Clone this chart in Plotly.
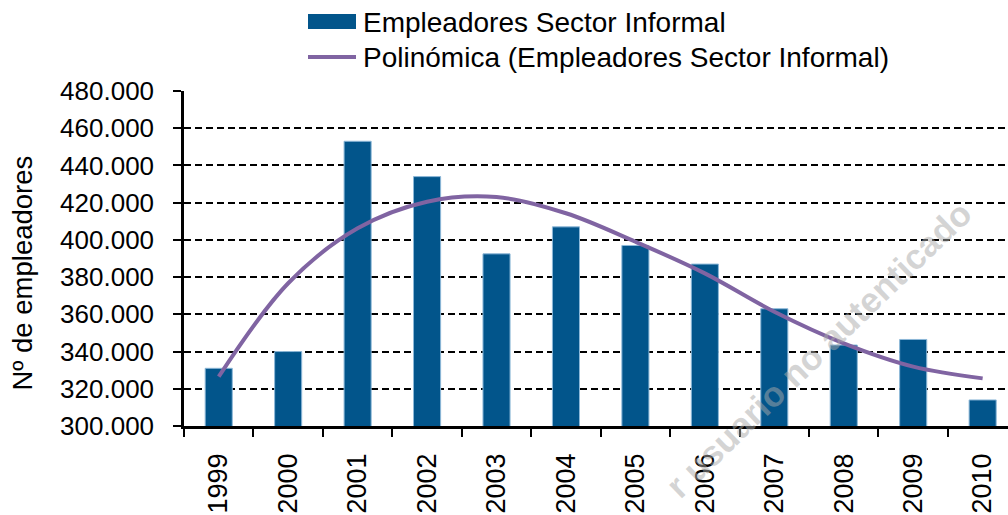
import plotly.graph_objects as go

years = ["1999", "2000", "2001", "2002", "2003", "2004", "2005", "2006", "2007", "2008", "2009", "2010"]
empleadores = [331000, 340000, 453000, 434000, 392500, 407000, 397000, 387000, 363000, 343500, 346500, 314000]
tendencia = [326500, 376700, 406200, 420500, 423000, 414300, 399000, 382000, 361400, 344400, 331900, 325600]
y_ticks = [300000, 320000, 340000, 360000, 380000, 400000, 420000, 440000, 460000, 480000]
y_labels = ["300.000", "320.000", "340.000", "360.000", "380.000", "400.000", "420.000", "440.000", "460.000", "480.000"]
serie_bar = "Empleadores Sector Informal"
serie_line = "Polinómica (Empleadores Sector Informal)"

FONT = "Liberation Sans, Arial, sans-serif"
BAR_COLOR = "#02558B"
LINE_COLOR = "#8064A2"

# plot area geometry (pixels)
L, R, T, B = 184, 1008, 91, 426
PW, PH = R - L, B - T


def px(xp):
    return (xp - L) / PW


def py(yp):
    return (B - yp) / PH


fig = go.Figure()
fig.add_trace(go.Bar(
    x=years, y=empleadores, name=serie_bar, showlegend=False,
    marker=dict(color=BAR_COLOR, line=dict(color="#8db8d8", width=1)),
    width=0.39,
))
fig.add_trace(go.Scatter(
    x=years, y=tendencia, name=serie_line, showlegend=False,
    mode="lines", line=dict(color=LINE_COLOR, width=4, shape="spline", smoothing=1.0),
))

shapes = [
    dict(type="rect", xref="paper", yref="paper",
         x0=px(308), x1=px(356), y0=py(29), y1=py(14),
         fillcolor=BAR_COLOR, line=dict(width=0)),
    dict(type="line", xref="paper", yref="paper",
         x0=px(308), x1=px(356), y0=py(57), y1=py(57),
         line=dict(color=LINE_COLOR, width=4)),
]

fig.update_layout(
    width=1008, height=515,
    margin=dict(l=L, r=1008 - R, t=T, b=515 - B, autoexpand=False),
    paper_bgcolor="white", plot_bgcolor="white",
    font=dict(family=FONT, size=26, color="black"),
    showlegend=False,
    xaxis=dict(
        type="category", range=[-0.5, 11.365], automargin=False,
        showline=True, linecolor="black", linewidth=2.5,
        ticks="outside", tickson="boundaries", ticklen=8, tickwidth=2, tickcolor="black",
        tickangle=-90, tickfont=dict(size=27, family=FONT, color="black"),
        ticklabelstandoff=14,
        showgrid=False, zeroline=False,
    ),
    yaxis=dict(
        range=[300000, 480000], automargin=False,
        tickvals=y_ticks, ticktext=y_labels,
        showline=True, linecolor="black", linewidth=2.5,
        ticks="outside", ticklen=8, tickwidth=2, tickcolor="black",
        tickfont=dict(size=26, family=FONT, color="black"),
        ticklabelstandoff=14,
        showgrid=True, gridcolor="black", gridwidth=1.5, griddash="7px,4px",
        zeroline=False,
    ),
    shapes=shapes,
    annotations=[
        dict(text=serie_bar, xref="paper", yref="paper",
             x=px(361), y=py(22), xanchor="left", yanchor="middle",
             showarrow=False, font=dict(size=28, family=FONT, color="black")),
        dict(text=serie_line, xref="paper", yref="paper",
             x=px(361), y=py(57), xanchor="left", yanchor="middle",
             showarrow=False, font=dict(size=28, family=FONT, color="black")),
        dict(text="Nº de empleadores", xref="paper", yref="paper",
             x=px(22), y=py(273.5), xanchor="center", yanchor="middle",
             textangle=-90, showarrow=False, font=dict(size=27.5, family=FONT, color="black")),
        dict(text="<b>r usuario no autenticado</b>", xref="paper", yref="paper",
             x=px(818), y=py(349), xanchor="center", yanchor="middle",
             textangle=-44, showarrow=False,
             font=dict(size=35, family=FONT, color="rgba(170,170,170,0.5)")),
    ],
)

fig.write_html(
    "out.html",
    config={"displayModeBar": False},
    post_script="document.body.style.margin='0';document.body.style.padding='0';"
                "document.documentElement.style.overflow='hidden';",
)
